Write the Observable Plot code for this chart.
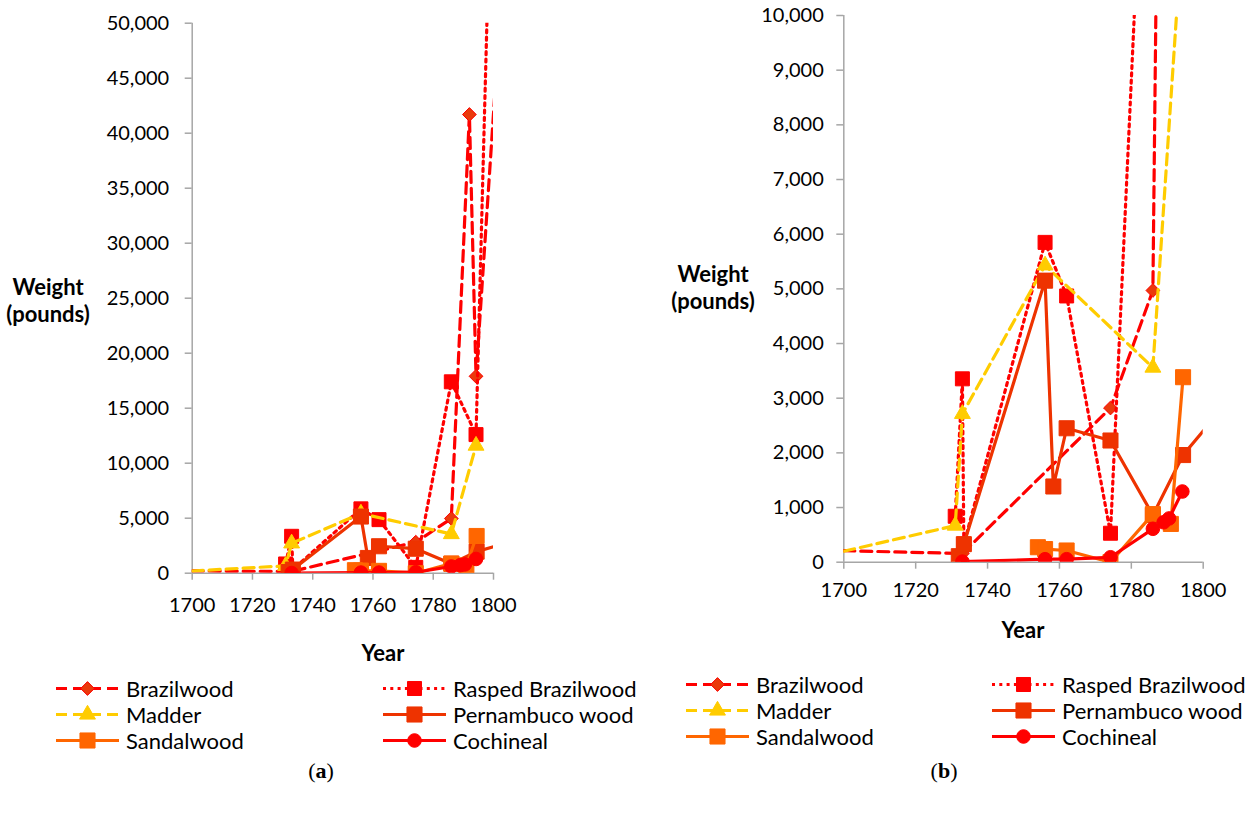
<!DOCTYPE html>
<html><head><meta charset="utf-8">
<script src="https://cdn.jsdelivr.net/npm/d3@7"></script>
<script src="https://cdn.jsdelivr.net/npm/@observablehq/plot@0.6"></script>
<style>
body{margin:0;background:#fff;font-family:Lato,sans-serif;color:#000;}
#page{position:relative;width:1253px;height:816px;overflow:hidden;background:#fff;}
.atitle{position:absolute;font-weight:bold;font-size:22px;text-align:center;white-space:nowrap;line-height:26.7px;transform:translate(-50%,-50%);}
.leg{position:absolute;display:flex;align-items:center;font-size:22px;line-height:21px;height:21px;white-space:nowrap;transform:translateY(-50%);}
.leg span{margin-left:7px;line-height:21px;}
.leg svg{display:block;}
.cap{position:absolute;font-family:"Liberation Serif",serif;font-size:22px;line-height:24px;transform:translate(-50%,-50%);}
</style></head><body><div id="page"></div>
<script>
// ---- data ----
const seriesNames = ["Brazilwood", "Rasped Brazilwood", "Madder", "Pernambuco wood", "Sandalwood", "Cochineal"];
const xTicks = [1700, 1720, 1740, 1760, 1780, 1800];

const brazilwoodYears   = [1700, 1733, 1774.2, 1786, 1792, 1794.2, 1801];
const brazilwoodWeights = [210, 160, 2820, 4970, 41700, 17900, 45900];

const raspedYears   = [1731, 1733, 1733.4, 1756, 1762, 1774.2, 1786, 1794.2, 1798];
const raspedWeights = [840, 3354, 330, 5850, 4870, 530, 17400, 12600, 52000];

const madderYears   = [1700, 1731, 1733, 1756, 1786, 1794.2];
const madderWeights = [200, 670, 2714, 5430, 3560, 11600];

const pernambucoYears   = [1732, 1733.4, 1756, 1758.3, 1762, 1774.2, 1786, 1794.4, 1801];
const pernambucoWeights = [110, 330, 5150, 1385, 2450, 2226, 860, 1960, 2480];

const sandalwoodYears   = [1754, 1756, 1762, 1774.2, 1786, 1791, 1794.4];
const sandalwoodWeights = [274, 240, 214, 0, 880, 700, 3384];

const cochinealYears   = [1733, 1756, 1762, 1774.2, 1786, 1789, 1790.5, 1794.2];
const cochinealWeights = [10, 55, 55, 90, 611, 730, 800, 1293];

// ---- styles ----
const styles = {
  "Brazilwood":        {line: "#ff0000", dash: "11,6",  symbol: "diamond2", r: 6.2, fill: "#ea3a0c", mstroke: "#ff0000"},
  "Rasped Brazilwood": {line: "#ff0000", dash: "3,4.3", symbol: "square",   r: 7.9, fill: "#ff0000", mstroke: "#ff0000"},
  "Madder":            {line: "#ffcc00", dash: "11,6",  symbol: "triangle", r: 5.9, fill: "#ffcc00", mstroke: "#ffcc00"},
  "Pernambuco wood":   {line: "#ee3300", dash: null,    symbol: "square",   r: 8.5, fill: "#ee3300", mstroke: "#ee3300"},
  "Sandalwood":        {line: "#ff6600", dash: null,    symbol: "square",   r: 8.5, fill: "#ff6600", mstroke: "#ff6600"},
  "Cochineal":         {line: "#ff0000", dash: null,    symbol: "circle",   r: 6.8, fill: "#ff0000", mstroke: "#ff0000"}
};

const seriesData = [
  [brazilwoodYears, brazilwoodWeights],
  [raspedYears, raspedWeights],
  [madderYears, madderWeights],
  [pernambucoYears, pernambucoWeights],
  [sandalwoodYears, sandalwoodWeights],
  [cochinealYears, cochinealWeights]
].map(([ys, ws], i) => ({name: seriesNames[i], points: ys.map((y, j) => ({year: y, weight: ws[j]}))}));

const page = document.getElementById("page");

function makePanel({width, height, ml, mr, mt, mb, yMax, yStep, yPad, xPad}) {
  const marks = [
    Plot.ruleX([1700], {y1: 0, y2: yMax, stroke: "#a6a6a6", strokeWidth: 1.5}),
    Plot.ruleY([0], {x1: 1700, x2: 1800, stroke: "#a6a6a6", strokeWidth: 1.5}),
    Plot.axisY({ticks: d3.range(0, yMax + 1, yStep), tickFormat: d3.format(","), tickSize: 7, tickPadding: yPad,
      stroke: "#a6a6a6", strokeWidth: 1.5, fill: "#000", fontSize: 20, label: null}),
    Plot.axisX({ticks: xTicks, tickFormat: d => String(d), tickSize: 7, tickPadding: xPad,
      stroke: "#a6a6a6", strokeWidth: 1.5, fill: "#000", fontSize: 20, label: null})
  ];
  for (const s of seriesData) {
    const st = styles[s.name];
    marks.push(Plot.line(s.points, {x: "year", y: "weight", stroke: st.line, strokeWidth: 3.2,
      strokeDasharray: st.dash || undefined, clip: true}));
    // markers of points lying on/outside the x-range edges are hidden (clipped in the original)
    marks.push(Plot.dot(s.points, {filter: d => d.year > 1700 && d.year < 1800,
      x: "year", y: "weight", symbol: st.symbol, r: st.r, fill: st.fill,
      stroke: st.mstroke, strokeWidth: 1, clip: true}));
  }
  return Plot.plot({
    width, height, marginLeft: ml, marginRight: mr, marginTop: mt, marginBottom: mb,
    x: {domain: [1700, 1800]}, y: {domain: [0, yMax]},
    style: {fontFamily: "Lato, sans-serif", fontSize: "20px", color: "#000", background: "transparent"},
    marks
  });
}

function place(el, left, top) {
  el.style.position = "absolute"; el.style.left = left + "px"; el.style.top = top + "px";
  page.appendChild(el);
}

// Panel (a)
place(makePanel({width: 520, height: 630, ml: 191.7, mr: 27, mt: 22.7, mb: 57.3, yMax: 50000, yStep: 5000, yPad: 16, xPad: 18}), 0, 0);
// Panel (b)
place(makePanel({width: 600, height: 620, ml: 203.3, mr: 37.3, mt: 15, mb: 58.3, yMax: 10000, yStep: 1000, yPad: 13, xPad: 14}), 640, 0);

function addText(cls, html, x, y) {
  const d = document.createElement("div");
  d.className = cls; d.innerHTML = html;
  d.style.left = x + "px"; d.style.top = y + "px";
  page.appendChild(d);
}
addText("atitle", "Year", 383, 653);
addText("atitle", "Year", 1023, 630);
addText("atitle", "Weight<br>(pounds)", 48, 301);
addText("atitle", "Weight<br>(pounds)", 713, 288);
addText("cap", "(<b>a</b>)", 321, 771);
addText("cap", "(<b>b</b>)", 944, 771);

const symbolTypes = {diamond2: d3.symbolDiamond2, square: d3.symbolSquare, triangle: d3.symbolTriangle, circle: d3.symbolCircle};
function swatch(name) {
  const st = styles[name];
  const svg = d3.create("svg").attr("width", 63).attr("height", 20).style("overflow", "visible");
  svg.append("line").attr("x1", 0).attr("x2", 63).attr("y1", 10).attr("y2", 10)
    .attr("stroke", st.line).attr("stroke-width", 3.2).attr("stroke-dasharray", st.dash || null);
  svg.append("path").attr("transform", "translate(31.5,10)")
    .attr("d", d3.symbol(symbolTypes[st.symbol], Math.PI * st.r * st.r)())
    .attr("fill", st.fill).attr("stroke", st.mstroke);
  return svg.node();
}
function legend(cols, rows) {
  seriesNames.forEach((name, i) => {
    const d = document.createElement("div");
    d.className = "leg";
    d.style.left = cols[i % 2] + "px"; d.style.top = rows[Math.floor(i / 2)] + "px";
    d.appendChild(swatch(name));
    const sp = document.createElement("span"); sp.textContent = name; d.appendChild(sp);
    page.appendChild(d);
  });
}
legend([56, 383], [688, 714, 740]);
legend([686, 992], [684, 710, 736]);
</script></body></html>
